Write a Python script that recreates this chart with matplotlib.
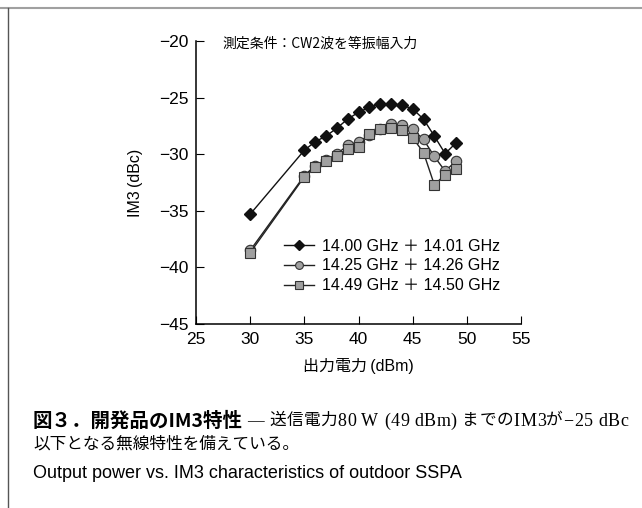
import numpy as np
import matplotlib
matplotlib.use("Agg")
import matplotlib.pyplot as plt
from matplotlib.lines import Line2D

plt.rcParams['font.family'] = ['Liberation Sans', 'Noto Sans CJK JP', 'DejaVu Sans']

# data
power = [30, 35, 36, 37, 38, 39, 40, 41, 42, 43, 44, 45, 46, 47, 48, 49]
im3_1400 = [-35.3, -29.65, -28.9, -28.4, -27.7, -26.9, -26.3, -25.85, -25.55,
            -25.6, -25.65, -26.0, -26.9, -28.4, -29.95, -29.0]
im3_1425 = [-38.5, -31.9, -31.0, -30.5, -30.0, -29.2, -28.9, -28.3, -27.8,
            -27.3, -27.45, -27.8, -28.7, -30.2, -31.5, -30.6]
im3_1449 = [-38.7, -32.0, -31.1, -30.6, -30.2, -29.5, -29.4, -28.2, -27.75,
            -27.7, -27.85, -28.55, -29.85, -32.7, -31.8, -31.35]
labels = ['14.00 GHz \uff0b 14.01 GHz', '14.25 GHz \uff0b 14.26 GHz',
          '14.49 GHz \uff0b 14.50 GHz']
xticks = [25, 30, 35, 40, 45, 50, 55]
yticks = [-45, -40, -35, -30, -25, -20]

W, H = 642, 508
fig = plt.figure(figsize=(W / 100, H / 100), dpi=100)

def fx(px):
    return px / W

def fy(py):
    return 1 - py / H

ax = fig.add_axes([fx(196), fy(324), fx(521) - fx(196), fy(41) - fy(324)])

ax.plot(power, im3_1400, color='#111111', lw=1.0, marker='D', ms=6.5,
        mfc='#111111', mec='#111111', label=labels[0], zorder=3)
ax.plot(power, im3_1425, color='#222222', lw=1.0, marker='o', ms=7.5,
        mfc='#a0a0a0', mec='#333333', mew=0.8, label=labels[1], zorder=2)
ax.plot(power, im3_1449, color='#222222', lw=1.0, marker='s', ms=7.5,
        mfc='#a0a0a0', mec='#333333', mew=0.8, label=labels[2], zorder=2.5)

ax.set_xlim(25, 55)
ax.set_ylim(-45, -20)
ax.set_xticks(xticks)
ax.set_yticks(yticks)
ax.set_yticklabels(['\u2212%d' % abs(v) for v in yticks])
ax.tick_params(direction='in', length=6, width=0.8, labelsize=12.5)
ax.tick_params(axis='y', pad=5.5)
ax.tick_params(axis='x', pad=6)
for s in ['top', 'right']:
    ax.spines[s].set_visible(False)
for s in ['left', 'bottom']:
    ax.spines[s].set_linewidth(1.1)

ax.set_xlabel('出力電力\u2009(dBm)', fontsize=11.5)
ax.xaxis.set_label_coords(0.5, (324 - 358) / 283)
ax.set_ylabel('IM3\u2009(dBc)', fontsize=11.5)
ax.yaxis.set_label_coords((143 - 196) / 325, 0.5)

leg = ax.legend(loc='center left', bbox_to_anchor=(fx(284), fy(266)),
                bbox_transform=fig.transFigure, frameon=False, fontsize=11.5,
                handlelength=1.9, handletextpad=0.5, labelspacing=0.3,
                borderpad=0, borderaxespad=0, markerscale=0.75)

fig.text(fx(222), fy(44), '測定条件：CW2波を等振幅入力', fontsize=10,
         va='center', family=['Noto Sans CJK JP', 'DejaVu Sans'])

# caption, first line justified out to the right edge like the print layout
cjk = ['Noto Sans CJK JP', 'DejaVu Sans']
serif = ['Liberation Serif', 'Noto Sans CJK JP', 'DejaVu Sans']
t1 = fig.text(fx(33), fy(421), '図３．開発品のIM3特性', fontsize=14,
              fontweight='bold', va='center', family=cjk)
fig.canvas.draw()
r = fig.canvas.get_renderer()
x0 = t1.get_window_extent(r).x1 + 4
x_end = 628
rest = '— 送信電力80 W (49 dBm) までのIM3が−25 dBc'
parts, widths = [], []
for ch in rest:
    fs = 13 if ch.isascii() or ch == '−' else 12
    if ch == ' ':
        parts.append(None)
        widths.append(0.25 * fs * 100 / 72)
        continue
    t = fig.text(0, fy(421), ch, fontsize=fs, va='center', family=serif)
    parts.append(t)
    widths.append(t.get_window_extent(r).width)
gap = max(0, (x_end - x0 - sum(widths)) / (len(rest) - 1))
x = x0
for p, w in zip(parts, widths):
    if p is not None:
        p.set_x(x / W)
    x += w + gap
fig.text(fx(33), fy(444), '以下となる無線特性を備えている。', fontsize=12,
         va='center', family=serif)
fig.text(fx(33), fy(473), 'Output power vs. IM3 characteristics of outdoor SSPA',
         fontsize=13, va='center')

# frame lines
fig.add_artist(Line2D([0, 1], [fy(8), fy(8)], transform=fig.transFigure,
                      color='#a0a0a0', lw=1.5))
fig.add_artist(Line2D([fx(8), fx(8)], [fy(8), 0], transform=fig.transFigure,
                      color='#555555', lw=1.0))

fig.savefig('out.png', dpi=100)
